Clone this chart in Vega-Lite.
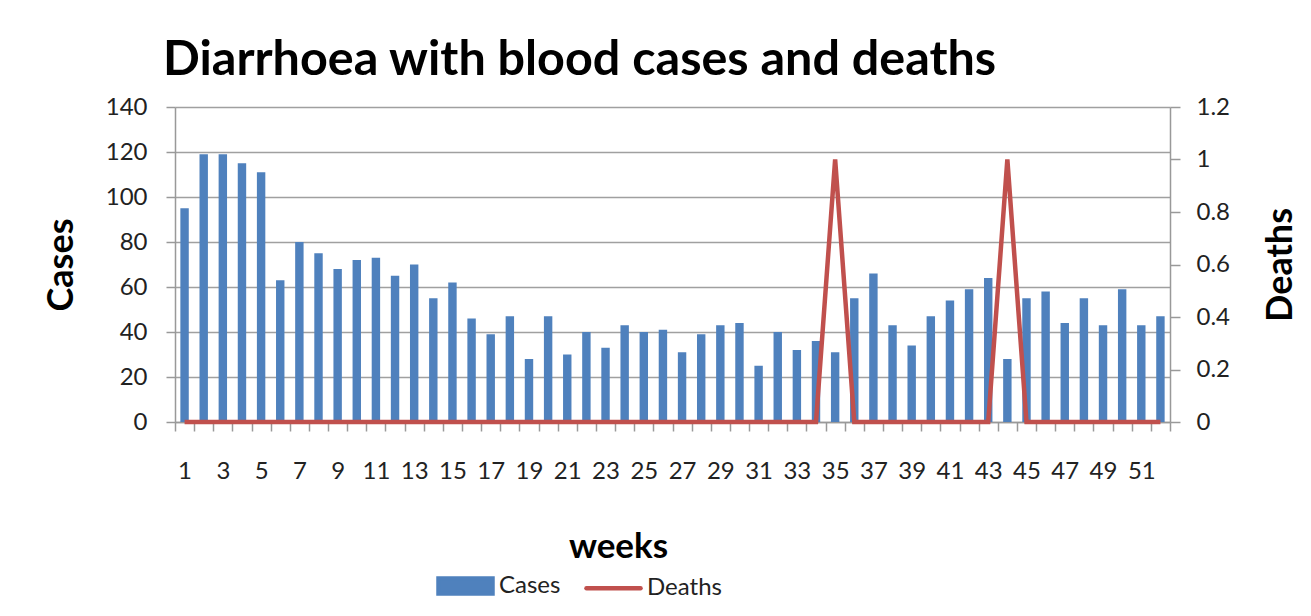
{
  "$schema": "https://vega.github.io/schema/vega-lite/v6.json",
  "width": 995,
  "height": 315,
  "autosize": "none",
  "padding": {"left": 175, "top": 107, "right": 141, "bottom": 194},
  "background": "white",
  "title": {
    "text": "Diarrhoea with blood cases and deaths",
    "anchor": "start",
    "frame": "group",
    "font": "Lato",
    "fontWeight": "bold",
    "fontSize": 48.5,
    "color": "black",
    "dx": -12,
    "offset": 10
  },
  "config": {"view": {"stroke": null}, "font": "Lato"},
  "data": {
    "values": [
      {"week": 1, "cases": 95, "deaths": 0},
      {"week": 2, "cases": 119, "deaths": 0},
      {"week": 3, "cases": 119, "deaths": 0},
      {"week": 4, "cases": 115, "deaths": 0},
      {"week": 5, "cases": 111, "deaths": 0},
      {"week": 6, "cases": 63, "deaths": 0},
      {"week": 7, "cases": 80, "deaths": 0},
      {"week": 8, "cases": 75, "deaths": 0},
      {"week": 9, "cases": 68, "deaths": 0},
      {"week": 10, "cases": 72, "deaths": 0},
      {"week": 11, "cases": 73, "deaths": 0},
      {"week": 12, "cases": 65, "deaths": 0},
      {"week": 13, "cases": 70, "deaths": 0},
      {"week": 14, "cases": 55, "deaths": 0},
      {"week": 15, "cases": 62, "deaths": 0},
      {"week": 16, "cases": 46, "deaths": 0},
      {"week": 17, "cases": 39, "deaths": 0},
      {"week": 18, "cases": 47, "deaths": 0},
      {"week": 19, "cases": 28, "deaths": 0},
      {"week": 20, "cases": 47, "deaths": 0},
      {"week": 21, "cases": 30, "deaths": 0},
      {"week": 22, "cases": 40, "deaths": 0},
      {"week": 23, "cases": 33, "deaths": 0},
      {"week": 24, "cases": 43, "deaths": 0},
      {"week": 25, "cases": 40, "deaths": 0},
      {"week": 26, "cases": 41, "deaths": 0},
      {"week": 27, "cases": 31, "deaths": 0},
      {"week": 28, "cases": 39, "deaths": 0},
      {"week": 29, "cases": 43, "deaths": 0},
      {"week": 30, "cases": 44, "deaths": 0},
      {"week": 31, "cases": 25, "deaths": 0},
      {"week": 32, "cases": 40, "deaths": 0},
      {"week": 33, "cases": 32, "deaths": 0},
      {"week": 34, "cases": 36, "deaths": 0},
      {"week": 35, "cases": 31, "deaths": 1},
      {"week": 36, "cases": 55, "deaths": 0},
      {"week": 37, "cases": 66, "deaths": 0},
      {"week": 38, "cases": 43, "deaths": 0},
      {"week": 39, "cases": 34, "deaths": 0},
      {"week": 40, "cases": 47, "deaths": 0},
      {"week": 41, "cases": 54, "deaths": 0},
      {"week": 42, "cases": 59, "deaths": 0},
      {"week": 43, "cases": 64, "deaths": 0},
      {"week": 44, "cases": 28, "deaths": 1},
      {"week": 45, "cases": 55, "deaths": 0},
      {"week": 46, "cases": 58, "deaths": 0},
      {"week": 47, "cases": 44, "deaths": 0},
      {"week": 48, "cases": 55, "deaths": 0},
      {"week": 49, "cases": 43, "deaths": 0},
      {"week": 50, "cases": 59, "deaths": 0},
      {"week": 51, "cases": 43, "deaths": 0},
      {"week": 52, "cases": 47, "deaths": 0}
    ]
  },
  "encoding": {
    "x": {
      "field": "week",
      "type": "ordinal",
      "scale": {"paddingInner": 0, "paddingOuter": 0},
      "axis": {
        "title": "weeks",
        "titleFont": "Lato",
        "titleFontSize": 35,
        "titleFontWeight": "bold",
        "titleColor": "black",
        "titlePadding": 46,
        "titleX": 443,
        "labelExpr": "datum.value % 2 === 1 ? datum.label : ''",
        "labelAngle": 0,
        "labelFont": "Lato",
        "labelFontSize": 24,
        "labelColor": "#222222",
        "labelPadding": 28,
        "labelOverlap": false,
        "tickBand": "extent",
        "tickSize": 9,
        "tickColor": "#999999",
        "tickWidth": 1.5,
        "domainColor": "#999999",
        "domainWidth": 1.5,
        "grid": false
      }
    },
    "color": {
      "field": "series",
      "type": "nominal",
      "scale": {"domain": ["Cases", "Deaths"], "range": ["#4F81BD", "#C0504D"]},
      "legend": {
        "orient": "none",
        "legendX": 261,
        "legendY": 449,
        "direction": "horizontal",
        "title": null,
        "padding": 0,
        "labelFont": "Lato",
        "labelFontSize": 24,
        "labelColor": "#222222",
        "labelOffset": 4,
        "columnPadding": 16,
        "symbolSize": 2916,
        "encode": {
          "symbols": {
            "update": {
              "shape": {"signal": "datum.value === 'Cases' ? 'M-1,-0.28H1V0.28H-1Z' : 'stroke'"},
              "fill": {"signal": "datum.value === 'Cases' ? '#4F81BD' : 'transparent'"},
              "stroke": {"signal": "datum.value === 'Cases' ? 'transparent' : '#C0504D'"},
              "strokeWidth": {"value": 4.5},
              "strokeCap": {"value": "round"},
              "opacity": {"value": 1}
            }
          }
        }
      }
    }
  },
  "layer": [
    {
      "transform": [{"calculate": "'Cases'", "as": "series"}],
      "mark": {"type": "bar", "width": {"band": 0.44}},
      "encoding": {
        "y": {
          "field": "cases",
          "type": "quantitative",
          "scale": {"domain": [0, 140], "nice": false},
          "axis": {
            "title": "Cases",
            "titleFont": "Lato",
            "titleFontSize": 36,
            "titleFontWeight": "bold",
            "titleColor": "black",
            "titlePadding": 25,
            "values": [0, 20, 40, 60, 80, 100, 120, 140],
            "labelFont": "Lato",
            "labelFontSize": 24,
            "labelColor": "#222222",
            "labelPadding": 19,
            "tickSize": 9,
            "tickColor": "#999999",
            "tickWidth": 1.5,
            "domainColor": "#999999",
            "domainWidth": 1.5,
            "grid": true,
            "gridColor": "#A0A0A0",
            "gridWidth": 1.5
          }
        }
      }
    },
    {
      "transform": [{"calculate": "'Deaths'", "as": "series"}],
      "mark": {"type": "line", "strokeWidth": 4.5},
      "encoding": {
        "y": {
          "field": "deaths",
          "type": "quantitative",
          "scale": {"domain": [0, 1.2], "nice": false},
          "axis": {
            "orient": "right",
            "title": "Deaths",
            "titleFont": "Lato",
            "titleFontSize": 36,
            "titleFontWeight": "bold",
            "titleColor": "black",
            "titleAngle": 270,
            "titlePadding": 70,
            "values": [0, 0.2, 0.4, 0.6, 0.8, 1, 1.2],
            "format": "~g",
            "labelFont": "Lato",
            "labelFontSize": 24,
            "labelColor": "#222222",
            "labelPadding": 16,
            "tickSize": 10,
            "tickColor": "#999999",
            "tickWidth": 1.5,
            "domainColor": "#999999",
            "domainWidth": 1.5,
            "grid": false
          }
        }
      }
    }
  ],
  "resolve": {"scale": {"y": "independent"}}
}
